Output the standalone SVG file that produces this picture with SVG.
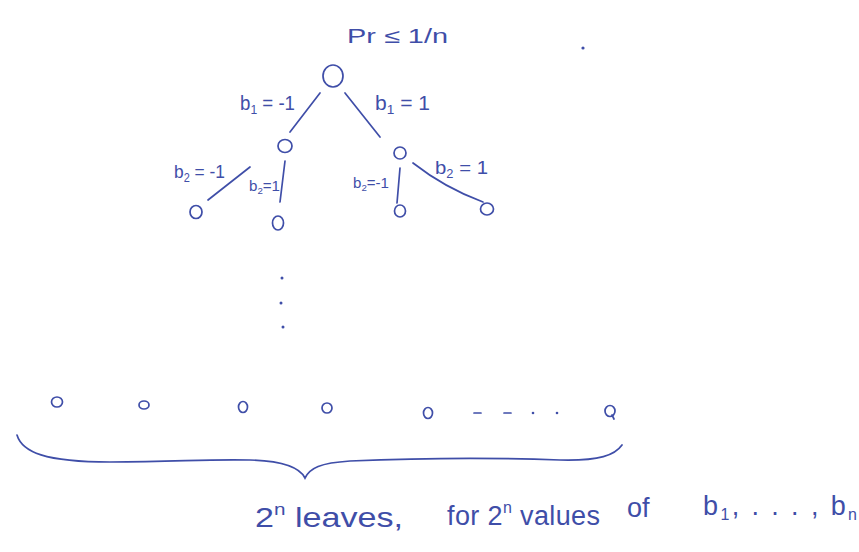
<svg xmlns="http://www.w3.org/2000/svg" width="859" height="552" viewBox="0 0 859 552">
<style>
.ink{fill:none;stroke:#3f4ea8;stroke-width:1.7;stroke-linecap:round}
.t{font-family:"Liberation Sans",Arial,sans-serif;fill:#3f4ea8}
.dot{fill:#3f4ea8}
</style>
<rect width="859" height="552" fill="#ffffff"/>
<text class="t" x="347" y="43" font-size="20" textLength="101" lengthAdjust="spacingAndGlyphs">Pr ≤ 1/n</text>
<circle class="dot" cx="583" cy="48" r="1.6"/>
<g id="connectors">
<path class="ink" d="M320,93 L290,132"/>
<path class="ink" d="M345,93 L380,137"/>
<path class="ink" d="M250,167 L208,200"/>
<path class="ink" d="M285,161 L280,202"/>
<path class="ink" d="M400,168 L397,203"/>
<path class="ink" d="M413,163 Q445,188 483,202"/>
</g>
<g id="labels">
<text class="t" x="240" y="110" font-size="20" textLength="55" lengthAdjust="spacingAndGlyphs">b<tspan font-size="13" dy="4">1</tspan><tspan dy="-4"> = -1</tspan></text>
<text class="t" x="375" y="110" font-size="20" textLength="55" lengthAdjust="spacingAndGlyphs">b<tspan font-size="13" dy="4">1</tspan><tspan dy="-4"> = 1</tspan></text>
<text class="t" x="174" y="178" font-size="19" textLength="51" lengthAdjust="spacingAndGlyphs">b<tspan font-size="12" dy="4">2</tspan><tspan dy="-4"> = -1</tspan></text>
<text class="t" x="249" y="191" font-size="14" textLength="31" lengthAdjust="spacingAndGlyphs">b<tspan font-size="9" dy="3">2</tspan><tspan dy="-3">=1</tspan></text>
<text class="t" x="353" y="188" font-size="14" textLength="36" lengthAdjust="spacingAndGlyphs">b<tspan font-size="9" dy="3">2</tspan><tspan dy="-3">=-1</tspan></text>
<text class="t" x="435" y="174" font-size="19" textLength="53" lengthAdjust="spacingAndGlyphs">b<tspan font-size="12" dy="4">2</tspan><tspan dy="-4"> = 1</tspan></text>
</g>
<g id="root"><ellipse class="ink" cx="333" cy="76" rx="10" ry="11"/></g>
<g id="n-l"><ellipse class="ink" cx="285" cy="146" rx="7" ry="6.5"/></g>
<g id="n-r"><ellipse class="ink" cx="400" cy="153" rx="6" ry="6"/></g>
<g id="n-ll"><ellipse class="ink" cx="196" cy="212" rx="6" ry="6.5"/></g>
<g id="n-lr"><ellipse class="ink" cx="278" cy="223" rx="5.5" ry="7"/></g>
<g id="n-rl"><ellipse class="ink" cx="400" cy="211" rx="5.5" ry="6"/></g>
<g id="n-rr"><ellipse class="ink" cx="487" cy="209" rx="6.5" ry="6"/></g>
<g id="vdots">
<circle class="dot" cx="282" cy="278" r="1.5"/>
<circle class="dot" cx="281" cy="303" r="1.5"/>
<circle class="dot" cx="283" cy="327" r="1.5"/>
</g>
<g id="leaves">
<ellipse class="ink" cx="57" cy="402" rx="5.5" ry="5"/>
<ellipse class="ink" cx="144" cy="405" rx="5" ry="4"/>
<ellipse class="ink" cx="243" cy="407" rx="4.5" ry="5.5"/>
<ellipse class="ink" cx="327" cy="408" rx="5" ry="5"/>
<ellipse class="ink" cx="428" cy="413" rx="4.5" ry="5.5"/>
<path class="ink" d="M474,413 L481,413 M504,413 L511,413"/>
<circle class="dot" cx="533" cy="413" r="1.3"/>
<circle class="dot" cx="557" cy="413" r="1.3"/>
<ellipse class="ink" cx="610" cy="411" rx="5" ry="5.5"/>
<path class="ink" d="M612,415 L614,419"/>
</g>
<path id="brace" class="ink" d="M17,435 C22,452 45,462 110,462 C180,462 200,459 250,460 C285,461 300,468 305,478 C310,468 320,463 350,461 C420,458 480,457 560,460 C600,461 615,455 622,445"/>
<g id="caption">
<text class="t" x="255" y="527" font-size="28" textLength="148" lengthAdjust="spacingAndGlyphs">2<tspan font-size="17" dy="-12">n</tspan><tspan dy="12"> leaves,</tspan></text>
<text class="t" x="447" y="525" font-size="27" textLength="153" lengthAdjust="spacing">for 2<tspan font-size="16" dy="-12">n</tspan><tspan dy="12"> values</tspan></text>
<text class="t" x="627" y="517" font-size="27">of</text>
<text class="t" x="703" y="515" font-size="27" textLength="154" lengthAdjust="spacing">b<tspan font-size="16" dy="5">1</tspan><tspan dy="-5">, . . . , b</tspan><tspan font-size="16" dy="5">n</tspan></text>
</g>
</svg>
